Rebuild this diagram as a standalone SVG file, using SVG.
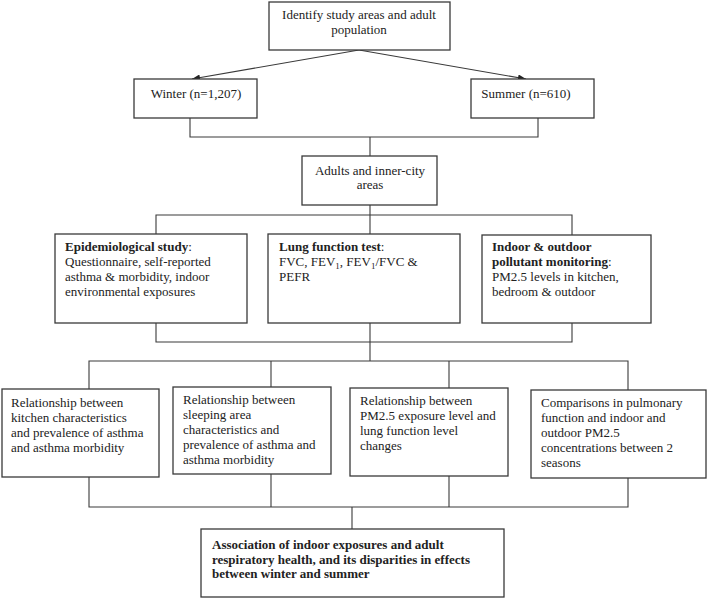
<svg xmlns="http://www.w3.org/2000/svg" width="709" height="600" viewBox="0 0 709 600">
<style>
.box{fill:#fff;stroke:#3a3a3a;stroke-width:1.3}
.ln{fill:none;stroke:#3a3a3a;stroke-width:1.1}
.t{font-family:"Liberation Serif","Times New Roman",serif;font-size:13px;fill:#222}
.c{text-anchor:middle}
.b{font-weight:bold}
</style>
<defs>
<marker id="ah" viewBox="0 0 10 8" refX="10" refY="4" markerWidth="8" markerHeight="6.4" orient="auto" markerUnits="userSpaceOnUse">
<path d="M0,0 L10,4 L0,8 z" fill="#222"/>
</marker>
</defs>
<rect width="709" height="600" fill="#fff"/>
<g id="connectors">
<line class="ln" x1="359" y1="50" x2="192" y2="79" marker-end="url(#ah)"/>
<line class="ln" x1="359" y1="50" x2="526" y2="79" marker-end="url(#ah)"/>
<polyline class="ln" points="190,118 190,137 538,137 538,118"/>
<line class="ln" x1="370" y1="137" x2="370" y2="156"/>
<line class="ln" x1="370" y1="205" x2="370" y2="215"/>
<polyline class="ln" points="156,234 156,215 572,215 572,235"/>
<line class="ln" x1="370" y1="215" x2="370" y2="234"/>
<polyline class="ln" points="156,323 156,342 572,342 572,323"/>
<line class="ln" x1="370" y1="323" x2="370" y2="361"/>
<polyline class="ln" points="89,389 89,361 628,361 628,390"/>
<line class="ln" x1="271" y1="361" x2="271" y2="387"/>
<line class="ln" x1="449" y1="361" x2="449" y2="388"/>
<polyline class="ln" points="89,477 89,507 628,507 628,478"/>
<line class="ln" x1="271" y1="474" x2="271" y2="507"/>
<line class="ln" x1="449" y1="476" x2="449" y2="507"/>
<line class="ln" x1="352" y1="507" x2="352" y2="529"/>
</g>
<g id="identify">
<rect class="box" x="269" y="2" width="181" height="48"/>
<text class="t c" x="359" y="19">Identify study areas and adult</text>
<text class="t c" x="359" y="34">population</text>
</g>
<g id="winter">
<rect class="box" x="134" y="79" width="123" height="39"/>
<text class="t c" x="196" y="97.5">Winter (n=1,207)</text>
</g>
<g id="summer">
<rect class="box" x="471" y="79" width="123" height="39"/>
<text class="t c" x="526" y="97.5">Summer (n=610)</text>
</g>
<g id="adults">
<rect class="box" x="302" y="156" width="135" height="49"/>
<text class="t c" x="370" y="175">Adults and inner-city</text>
<text class="t c" x="370" y="189">areas</text>
</g>
<g id="epidemiological">
<rect class="box" x="55" y="234" width="192" height="89"/>
<text class="t" x="65" y="251"><tspan class="b">Epidemiological study</tspan>:</text>
<text class="t" x="65" y="266">Questionnaire, self-reported</text>
<text class="t" x="65" y="281">asthma &amp; morbidity, indoor</text>
<text class="t" x="65" y="296">environmental exposures</text>
</g>
<g id="lung">
<rect class="box" x="268" y="234" width="192" height="89"/>
<text class="t" x="279" y="251"><tspan class="b">Lung function test</tspan>:</text>
<text class="t" x="279" y="266">FVC, FEV<tspan font-size="9" dy="3">1</tspan><tspan dy="-3">, FEV</tspan><tspan font-size="9" dy="3">1</tspan><tspan dy="-3">/FVC &amp;</tspan></text>
<text class="t" x="279" y="281">PEFR</text>
</g>
<g id="indoor">
<rect class="box" x="482" y="235" width="169" height="88"/>
<text class="t b" x="492" y="251">Indoor &amp; outdoor</text>
<text class="t" x="492" y="266"><tspan class="b">pollutant monitoring</tspan>:</text>
<text class="t" x="492" y="281">PM2.5 levels in kitchen,</text>
<text class="t" x="492" y="296">bedroom &amp; outdoor</text>
</g>
<g id="kitchen">
<rect class="box" x="2" y="389" width="157" height="88"/>
<text class="t" x="11" y="407">Relationship between</text>
<text class="t" x="11" y="422">kitchen characteristics</text>
<text class="t" x="11" y="437">and prevalence of asthma</text>
<text class="t" x="11" y="452">and asthma morbidity</text>
</g>
<g id="sleeping">
<rect class="box" x="173" y="387" width="158" height="87"/>
<text class="t" x="183" y="404">Relationship between</text>
<text class="t" x="183" y="419">sleeping area</text>
<text class="t" x="183" y="434">characteristics and</text>
<text class="t" x="183" y="449">prevalence of asthma and</text>
<text class="t" x="183" y="464">asthma morbidity</text>
</g>
<g id="pm25">
<rect class="box" x="350" y="388" width="158" height="88"/>
<text class="t" x="360" y="405">Relationship between</text>
<text class="t" x="360" y="420">PM2.5 exposure level and</text>
<text class="t" x="360" y="435">lung function level</text>
<text class="t" x="360" y="450">changes</text>
</g>
<g id="comparisons">
<rect class="box" x="531" y="390" width="175" height="88"/>
<text class="t" x="541" y="407">Comparisons in pulmonary</text>
<text class="t" x="541" y="422">function and indoor and</text>
<text class="t" x="541" y="437">outdoor PM2.5</text>
<text class="t" x="541" y="452">concentrations between 2</text>
<text class="t" x="541" y="467">seasons</text>
</g>
<g id="association">
<rect class="box" x="201" y="529" width="303" height="68"/>
<text class="t b" x="212" y="549">Association of indoor exposures and adult</text>
<text class="t b" x="212" y="563.5">respiratory health, and its disparities in effects</text>
<text class="t b" x="212" y="578">between winter and summer</text>
</g>
</svg>
